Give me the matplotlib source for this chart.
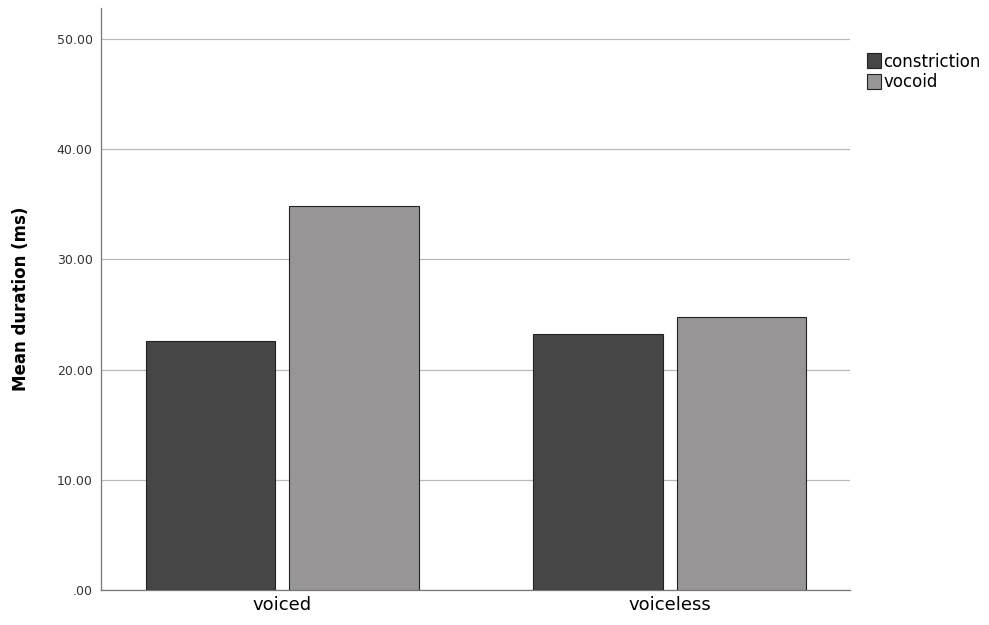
import numpy as np
import matplotlib.pyplot as plt

# mean durations (ms)
categories = ['voiced', 'voiceless']
constriction = [22.6, 23.2]
vocoid = [34.8, 24.8]
series_names = ['constriction', 'vocoid']
yticks = [0, 10, 20, 30, 40, 50]
ytick_labels = ['.00', '10.00', '20.00', '30.00', '40.00', '50.00']

fig = plt.figure(figsize=(9.89, 6.25), dpi=100)
ax = fig.add_axes([0.102, 0.056, 0.757, 0.931])

x = np.arange(len(categories))
w = 0.335
off = 0.185
ax.bar(x - off, constriction, w, color='#464646', edgecolor='#222222', linewidth=0.8,
       label=series_names[0], zorder=3)
ax.bar(x + off, vocoid, w, color='#979595', edgecolor='#222222', linewidth=0.8,
       label=series_names[1], zorder=3)

ax.set_xlim(-0.468, 1.464)
ax.set_ylim(0, 52.8)
ax.set_yticks(yticks)
ax.set_yticklabels(ytick_labels, fontsize=9, color='#333333')
ax.set_xticks(x)
ax.set_xticklabels(categories, fontsize=13)
ax.tick_params(length=0, pad=6)
ax.tick_params(axis='x', pad=4)
ax.yaxis.grid(True, color='#b8b8b8', linewidth=0.9, zorder=0)

for s in ['top', 'right']:
    ax.spines[s].set_visible(False)
for s in ['left', 'bottom']:
    ax.spines[s].set_color('#777777')
    ax.spines[s].set_linewidth(0.9)

ax.set_ylabel('Mean duration (ms)', fontsize=12, fontweight='bold', labelpad=19)

ax.legend(loc='upper left', bbox_to_anchor=(1.014, 0.935), frameon=False, fontsize=12,
          handlelength=0.85, handleheight=1.0, handletextpad=0.15, labelspacing=0.15,
          borderaxespad=0)

fig.savefig('out.png', dpi=100)
